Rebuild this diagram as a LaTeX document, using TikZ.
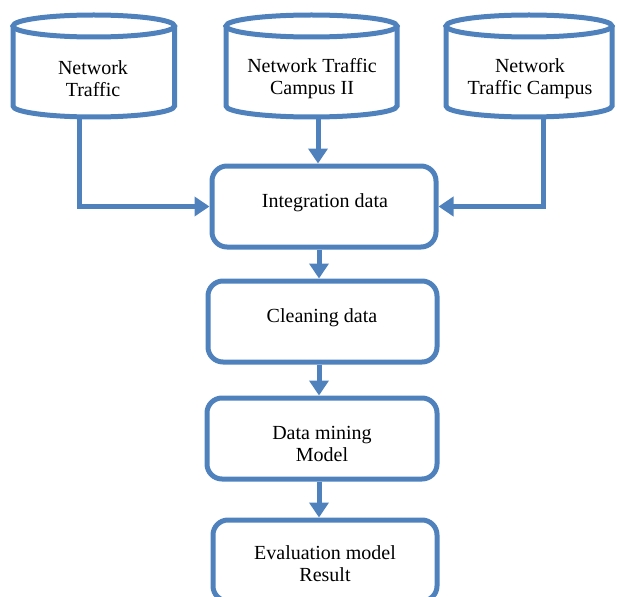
\documentclass[tikz,border=0pt]{standalone}
\usepackage{fontspec}
\setmainfont{Liberation Serif}
\usetikzlibrary{arrows.meta}
\definecolor{bl}{RGB}{79,129,189}
\begin{document}
\begin{tikzpicture}[x=1pt,y=-1pt,
  box/.style={draw=bl,line width=5pt,rounded corners=15pt,minimum height=81pt,inner sep=0pt},
  txt/.style={font=\fontsize{20}{22}\selectfont,align=center,inner sep=0pt},
  cyl/.style={draw=bl,line width=5pt},
  arr/.style={draw=bl,line width=5pt,-{Triangle[length=15pt,width=19pt]}}]
\useasboundingbox (0,0) rectangle (617,596);
\clip (0,0) rectangle (617,596);
% cylinders
\foreach \l/\r in {13/174.5, 226/397, 446/612}{
  \pgfmathsetmacro{\cx}{(\l+\r)/2}
  \pgfmathsetmacro{\rx}{(\r-\l)/2}
  \draw[cyl] (\cx,26) ellipse [x radius=\rx pt, y radius=11pt];
  \draw[cyl] (\l,26) -- (\l,106) arc[start angle=180,end angle=360,x radius=\rx pt,y radius=11pt] -- (\r,26);
}
\node[txt] (t1) at (93,78.5) {Network\\Traffic};
\node[txt] (t2) at (312,78.5) {Network Traffic\\Campus II};
\node[txt] (t3) at (530,78.5) {Network\\Traffic Campus};
\coordinate (c1b) at (79,116);
\coordinate (c2b) at (318,116);
\coordinate (c3b) at (543,116);
\coordinate (ax) at (319,0);
% boxes
\node[box,minimum width=224pt] (integ) at (324,206.5) {};
\node[box,minimum width=229pt] (clean) at (322.5,321.5) {};
\node[box,minimum width=230pt] (mine) at (322,438.5) {};
\node[box,minimum width=224pt] (eval) at (325,560.5) {};
\node[txt] (integT) at (325,202.5) {Integration data};
\node[txt] (cleanT) at (322,317.5) {Cleaning data};
\node[txt] (mineT) at (322,444) {Data mining\\Model};
\node[txt] (evalT) at (325,564) {Evaluation model\\Result};
% connectors
\draw[arr] (c1b) |- (integ.west);
\draw[arr] (c3b) |- (integ.east);
\draw[arr] (c2b) -- (integ.north -| c2b);
\draw[arr] (integ.south -| ax) -- (clean.north -| ax);
\draw[arr] (clean.south -| ax) -- (mine.north -| ax);
\draw[arr] (mine.south -| ax) -- (eval.north -| ax);
\end{tikzpicture}
\end{document}
